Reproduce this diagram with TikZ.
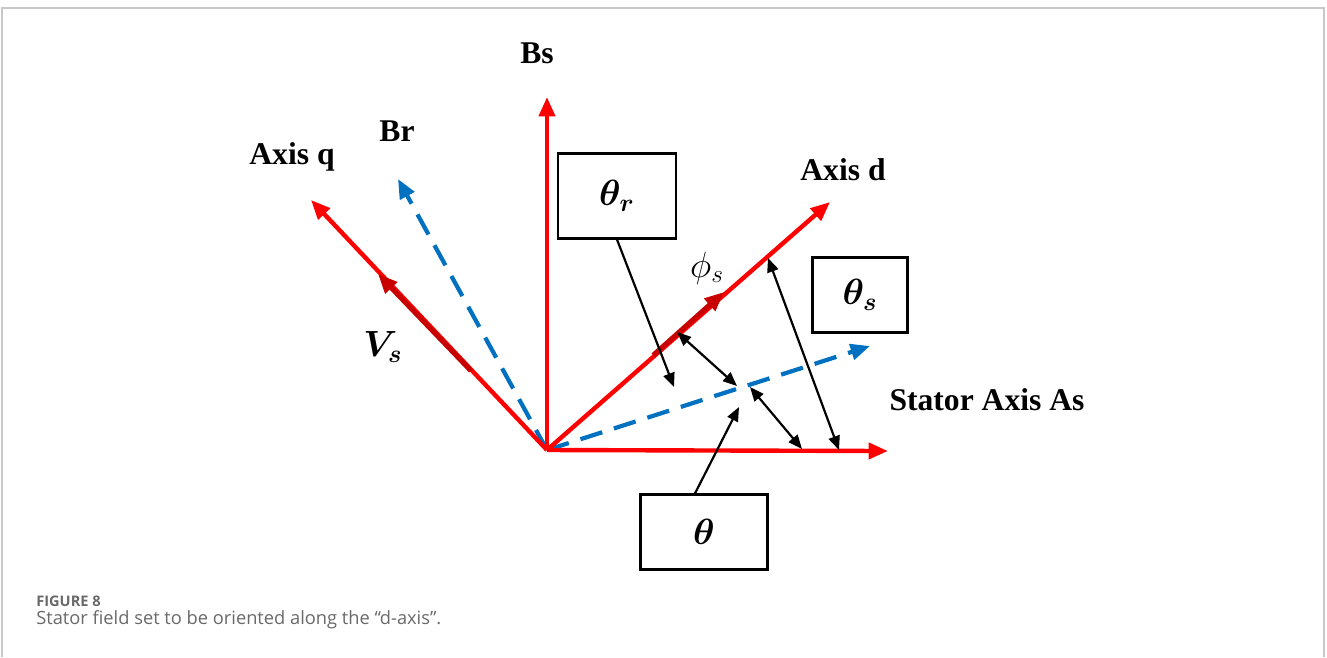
\documentclass[tikz,border=0pt]{standalone}
\usepackage{amsmath,bm}
\usepackage{fontspec}
\setmainfont{Liberation Serif}
\newfontfamily\capfont{Open Sans}
\usetikzlibrary{arrows.meta,calc}

\definecolor{axisred}{RGB}{255,0,0}
\definecolor{vecred}{RGB}{200,0,0}
\definecolor{fluxblue}{RGB}{0,112,192}
\definecolor{framegray}{RGB}{200,200,200}
\definecolor{capgray}{RGB}{105,105,105}

\tikzset{
  axisline/.style={axisred, line width=2.5pt, -{Triangle[length=11pt,width=9pt]}},
  vecline/.style={vecred, line width=2.8pt, -{Triangle[length=11pt,width=9pt]}},
  fluxline/.style={fluxblue, line width=2.4pt, dash pattern=on 13pt off 7pt, -{Triangle[length=11pt,width=9pt]}},
  anglebox/.style={draw, line width=1.2pt, inner sep=0pt},
  pointer/.style={line width=1.25pt, -{Triangle[length=8pt,width=6.5pt]}},
  twoway/.style={line width=1.25pt, {Triangle[length=8pt,width=6.5pt]}-{Triangle[length=8pt,width=6.5pt]}},
  axislabel/.style={font=\fontsize{18}{20}\selectfont\bfseries},
  anglelabel/.style={font=\fontsize{21}{24}\selectfont}
}

\begin{document}
\begin{tikzpicture}[x=0.02cm,y=-0.02cm]

\useasboundingbox (0,0) rectangle (1327,657);

% Cadre
\draw[framegray, line width=0.6pt] (2,657) -- (2,8) -- (1324,8) -- (1324,657);

% Axes
\coordinate (O) at (547,450);
\coordinate (Bs) at (547,97);
\coordinate (Q) at (311,200);
\coordinate (D) at (830,202);
\coordinate (As) at (888,451);
\coordinate (Br) at (398,179);
\coordinate (Fl) at (870,346);
\coordinate (Vs) at (378,274);
\coordinate (Ph) at (724,292);

\draw[fluxline] (O) -- (Br);
\draw[fluxline] (O) -- (Fl);
\draw[axisline] (O) -- (Bs);
\draw[axisline] (O) -- (Q);
\draw[axisline] (O) -- (D);
\draw[axisline] (O) -- (As);
\draw[vecline] ($(O)!0.45!(Vs)$) -- (Vs);
\draw[vecline] ($(O)!0.6!(Ph)$) -- (Ph);

% Textes
\node[axislabel] (lbs) at (537,53) {Bs};
\node[axislabel] (lbr) at (397,131) {Br};
\node[axislabel] (lq) at (292,157) {Axis q};
\node[axislabel] (ld) at (843,170) {Axis d};
\node[axislabel] (las) at (987,400) {Stator Axis As};
\node[anglelabel] (lvs) at (383,347) {$\bm{V_s}$};
\node[anglelabel] (lphi) at (707,268) {$\phi_s$};

% Cadres des angles
\node[anglebox, minimum width=118*0.02cm, minimum height=85*0.02cm, anglelabel] (thr) at (617,196) {$\bm{\theta_r}$};
\node[anglebox, minimum width=95*0.02cm, minimum height=75*0.02cm, anglelabel] (ths) at (860,295) {$\bm{\theta_s}$};
\node[anglebox, minimum width=127*0.02cm, minimum height=75*0.02cm, anglelabel] (th) at (704,532) {$\bm{\theta}$};

% Fleches
\coordinate (p1) at (674,387);
\coordinate (p2) at (739,407);
\draw[pointer] (thr.south) -- (p1);
\draw[pointer] ($(th.north west)!0.43!(th.north east)$) -- (p2);

\coordinate (a1) at (677,332);
\coordinate (a2) at (737,386);
\coordinate (b1) at (750,387);
\coordinate (b2) at (802,449);
\coordinate (c1) at (768,258);
\coordinate (c2) at (839,450);
\draw[twoway] (a1) -- (a2);
\draw[twoway] (b1) -- (b2);
\draw[twoway] (c1) -- (c2);

% Legende
\node[anchor=west, inner sep=0pt, text=capgray, font=\capfont\bfseries\fontsize{8.3}{10}\selectfont] (fig) at (36,601) {FIGURE 8};
\node[anchor=west, inner sep=0pt, text=capgray, font=\capfont\fontsize{10.4}{12}\selectfont] (cap) at (36,620) {Stator field set to be oriented along the “d-axis”.};

\end{tikzpicture}
\end{document}
